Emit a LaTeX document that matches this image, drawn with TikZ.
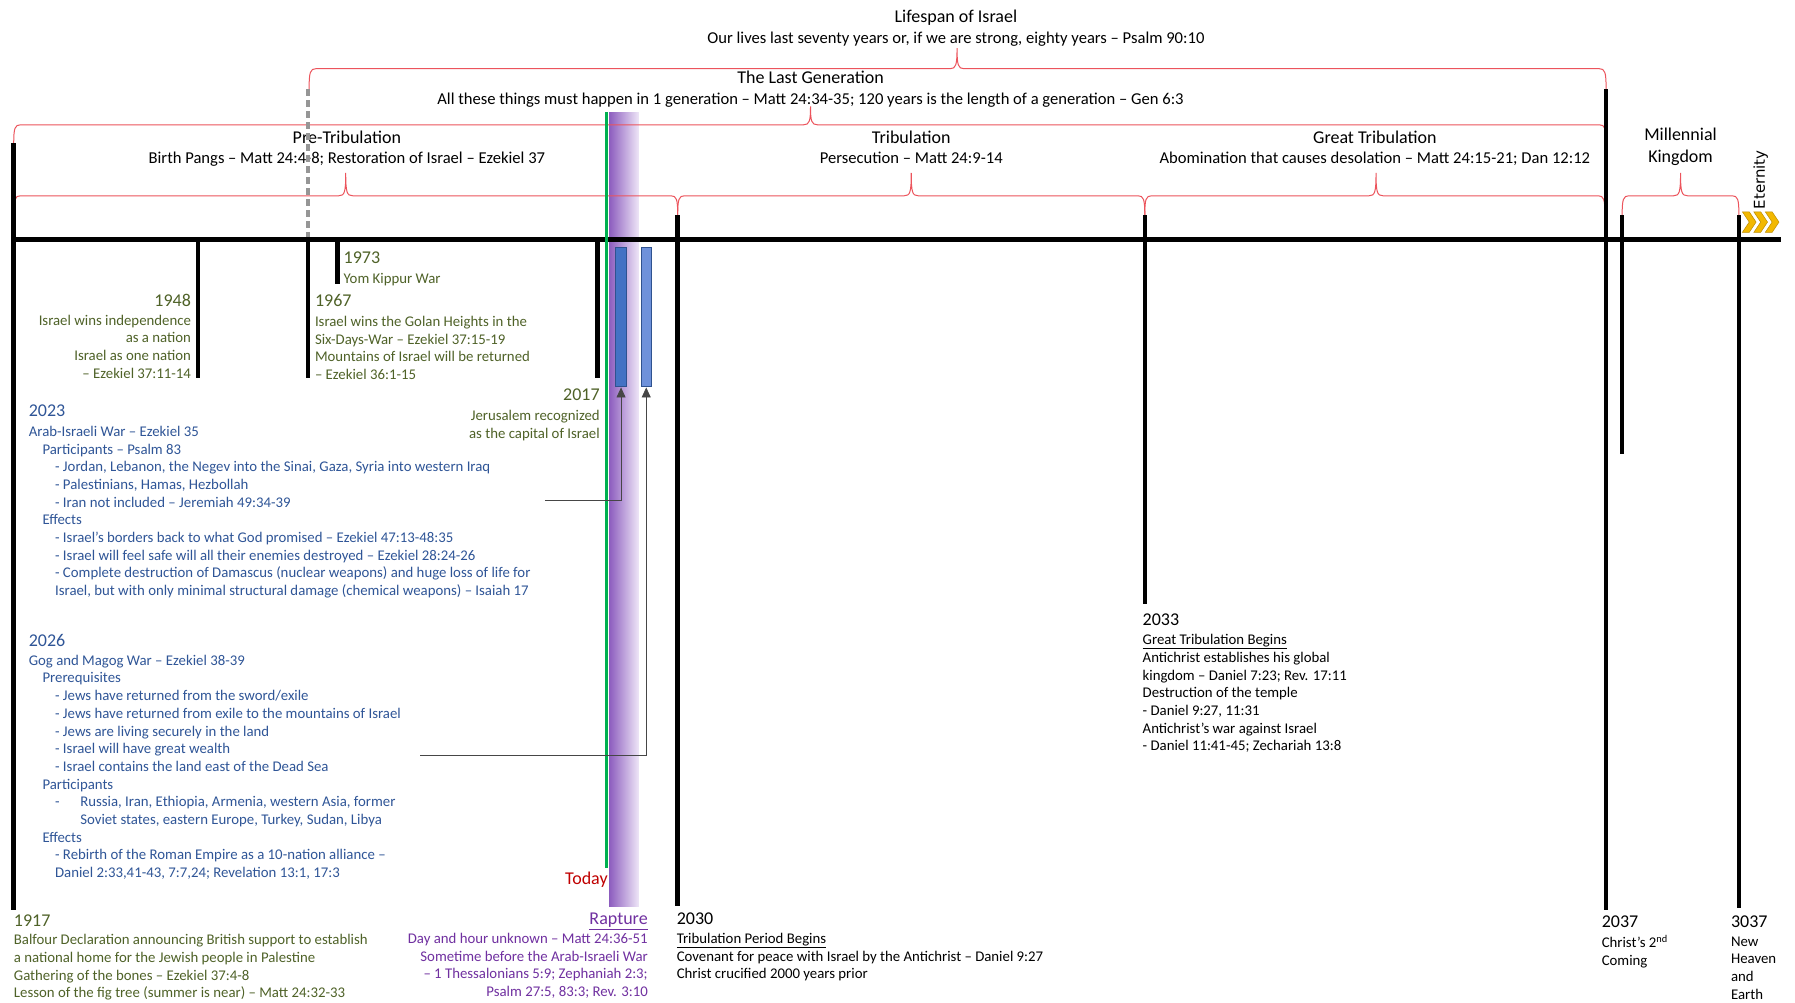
\documentclass[tikz,border=0pt]{standalone}
\usepackage{fontspec}
\setmainfont{Carlito}
\newfontfamily\etfont{DejaVu Sans}
\usetikzlibrary{arrows.meta}
\definecolor{grn}{RGB}{79,98,40}
\definecolor{blu}{RGB}{47,85,151}
\definecolor{pur}{RGB}{112,48,160}
\definecolor{tdred}{RGB}{192,0,0}
\definecolor{brred}{RGB}{236,84,92}
\definecolor{gline}{RGB}{0,176,80}
\definecolor{bar1}{RGB}{68,114,196}
\definecolor{bar2}{RGB}{110,145,218}
\definecolor{barb}{RGB}{47,82,143}
\definecolor{chev}{RGB}{242,184,0}
\definecolor{chevb}{RGB}{190,140,0}
\definecolor{purL}{RGB}{140,92,190}
\definecolor{purR}{RGB}{238,230,247}
\definecolor{dgray}{RGB}{150,150,150}
\newcommand\indA{\hspace*{13.7pt}}
\newcommand\indB{\hspace*{26.3pt}}
\newcommand\mybrace[6]{%
  \draw[brc] (#1,{#4+#5}) .. controls (#1,{#4+3}) and ({#1+1},#4) .. ({#1+6},#4)
    -- ({#3-6},#4) .. controls ({#3-1},#4) and (#3,{#4-3}) .. (#3,{#4-#6})
    .. controls (#3,{#4-3}) and ({#3+1},#4) .. ({#3+6},#4)
    -- ({#2-6},#4) .. controls ({#2-1},#4) and (#2,{#4+3}) .. (#2,{#4+#5});}
\begin{document}
\begin{tikzpicture}[x=1.1448pt,y=-1.1448pt,
  brc/.style={draw=brred,line width=1pt},
  vtick/.style={line width=4.5pt,black},
  body/.style={inner sep=0pt,font={\fontsize{14.8}{17.7}\selectfont},execute at begin node={\strut}},
  yr/.style={inner sep=0pt,font={\fontsize{18}{21}\selectfont}},
  head/.style={inner sep=0pt,font={\fontsize{18}{21}\selectfont},anchor=base},
  sub/.style={inner sep=0pt,font={\fontsize{16.6}{19}\selectfont},anchor=base},
  bluebar/.style={draw=barb,line width=1pt,minimum width=10.3pt,minimum height=139.7pt,inner sep=0pt},
  conn/.style={draw={rgb,255:red,70;green,70;blue,70},line width=0.8pt,-{Triangle[length=10pt,width=9pt]}}
]
\useasboundingbox (0,0) rectangle (1568,876);
\fill[white] (0,0) rectangle (1568,876);

% purple rapture band
\shade[left color=purL,right color=purR] (532,98) rectangle (558,792);

% top headings
\node[head] (lifespan) at (835,20) {Lifespan of Israel};
\node[sub] (lifesub) at (835,38) {Our lives last seventy years or, if we are strong, eighty years – Psalm 90:10};
\node[head] (lastgen) at (708,73) {The Last Generation};
\node[sub] (lastsub) at (708,91) {All these things must happen in 1 generation – Matt 24:34-35; 120 years is the length of a generation – Gen 6:3};
\node[head] (pretrib) at (303,125) {Pre-Tribulation};
\node[sub] (presub) at (303,143) {Birth Pangs – Matt 24:4-8; Restoration of Israel – Ezekiel 37};
\node[head] (trib) at (796,125) {Tribulation};
\node[sub] (tribsub) at (796,143) {Persecution – Matt 24:9-14};
\node[head] (gtrib) at (1201,125) {Great Tribulation};
\node[sub] (gtribsub) at (1201,143) {Abomination that causes desolation – Matt 24:15-21; Dan 12:12};
\node[head] (mill) at (1468,123) {Millennial};
\node[head] (king) at (1468,142) {Kingdom};
\node[rotate=90,inner sep=0pt,font={\etfont\fontsize{15}{17}\selectfont}] (etern) at (1538,157) {Eternity};

% braces
\mybrace{270}{1403}{836}{60}{18}{18}
\mybrace{12}{1403}{708}{109}{16}{16}
\mybrace{12}{592}{302}{171}{17}{20}
\mybrace{592}{1000}{796}{171}{17}{20}
\mybrace{1000}{1402}{1202}{171}{17}{20}
\mybrace{1417}{1519}{1468}{171}{17}{20}

% chevrons
\foreach \i in {0,1,2}{
  \filldraw[fill=chev,draw=chevb,line width=0.5pt]
    ({1522+\i*10},185) -- ({1528+\i*10},185) -- ({1534+\i*10},194) -- ({1528+\i*10},203)
    -- ({1522+\i*10},203) -- ({1528+\i*10},194) -- cycle;
}

% dashed marker
\draw[dgray,line width=3.2pt,dash pattern=on 7pt off 4pt] (269,78) -- (269,207);

% main axis
\draw[line width=4.5pt] (10,209) -- (1556,209);

% ticks
\draw[vtick] (12,125) -- (12,795);
\draw[vtick] (173,209) -- (173,330);
\draw[vtick] (269,209) -- (269,330);
\draw[vtick] (295,209) -- (295,248);
\draw[vtick] (522,209) -- (522,330);
\draw[vtick] (592,188) -- (592,791);
\draw[vtick] (1000,188) -- (1000,528);
\draw[vtick] (1403,78) -- (1403,795);
\draw[vtick] (1417,188) -- (1417,397);
\draw[vtick] (1519,188) -- (1519,793);

% today line
\draw[gline,line width=3pt] (530,98) -- (530,758);

% blue bars
\node[bluebar,fill=bar1] (r1) at (542.5,277) {};
\node[bluebar,fill=bar2] (r2) at (564.5,277) {};
\coordinate (a1) at (476,437);
\coordinate (a2) at (367,660);
\draw[conn] (a1) -| (r1.south);
\draw[conn] (a2) -| (r2.south);

% 1973
\node[yr,anchor=base west,text=grn] (y1973) at (300,230) {1973};
\node[body,anchor=north west,align=left,text=grn] (t1973) at (300,237) {Yom Kippur War};
% 1948
\node[yr,anchor=base east,text=grn] (y1948) at (167,268) {1948};
\node[body,anchor=north east,align=right,text=grn] (t1948) at (167,275) {Israel wins independence\\as a nation\\Israel as one nation\\– Ezekiel 37:11-14};
% 1967
\node[yr,anchor=base west,text=grn] (y1967) at (275,268) {1967};
\node[body,anchor=north west,align=left,text=grn] (t1967) at (275,276) {Israel wins the Golan Heights in the\\Six-Days-War – Ezekiel 37:15-19\\Mountains of Israel will be returned\\– Ezekiel 36:1-15};
% 2017
\node[yr,anchor=base east,text=grn] (y2017) at (524,350) {2017};
\node[body,anchor=north east,align=right,text=grn] (t2017) at (524,358) {Jerusalem recognized\\as the capital of Israel};

% 2023
\node[yr,anchor=base west,text=blu] (y2023) at (25,364) {2023};
\node[body,anchor=north west,align=left,text=blu] (t2023) at (25,372) {Arab-Israeli War – Ezekiel 35\\
\indA Participants – Psalm 83\\
\indB - Jordan, Lebanon, the Negev into the Sinai, Gaza, Syria into western Iraq\\
\indB - Palestinians, Hamas, Hezbollah\\
\indB - Iran not included – Jeremiah 49:34-39\\
\indA Effects\\
\indB - Israel's borders back to what God promised – Ezekiel 47:13-48:35\\
\indB - Israel will feel safe will all their enemies destroyed – Ezekiel 28:24-26\\
\indB - Complete destruction of Damascus (nuclear weapons) and huge loss of life for\\
\indB Israel, but with only minimal structural damage (chemical weapons) – Isaiah 17};

% 2026
\node[yr,anchor=base west,text=blu] (y2026) at (25,565) {2026};
\node[body,anchor=north west,align=left,text=blu] (t2026) at (25,572) {Gog and Magog War – Ezekiel 38-39\\
\indA Prerequisites\\
\indB - Jews have returned from the sword/exile\\
\indB - Jews have returned from exile to the mountains of Israel\\
\indB - Jews are living securely in the land\\
\indB - Israel will have great wealth\\
\indB - Israel contains the land east of the Dead Sea\\
\indA Participants\\
\indB\makebox[25.2pt][l]{-}Russia, Iran, Ethiopia, Armenia, western Asia, former\\
\indB\hspace*{25.2pt}Soviet states, eastern Europe, Turkey, Sudan, Libya\\
\indA Effects\\
\indB - Rebirth of the Roman Empire as a 10-nation alliance –\\
\indB Daniel 2:33,41-43, 7:7,24; Revelation 13:1, 17:3};

% Today
\node[yr,anchor=base east,text=tdred] (today) at (531,773) {Today};

% 1917
\node[yr,anchor=base west,text=grn] (y1917) at (12,809) {1917};
\node[body,anchor=north west,align=left,text=grn] (t1917) at (12,816) {Balfour Declaration announcing British support to establish\\a national home for the Jewish people in Palestine\\Gathering of the bones – Ezekiel 37:4-8\\Lesson of the fig tree (summer is near) – Matt 24:32-33};

% Rapture
\node[yr,anchor=base east,text=pur] (rapt) at (566,808) {\underline{Rapture}};
\node[body,anchor=north east,align=right,text=pur] (trapt) at (566,815) {Day and hour unknown – Matt 24:36-51\\Sometime before the Arab-Israeli War\\– 1 Thessalonians 5:9; Zephaniah 2:3;\\Psalm 27:5, 83:3; Rev. 3:10};

% 2030
\node[yr,anchor=base west] (y2030) at (591,808) {2030};
\node[body,anchor=north west,align=left] (t2030) at (591,815) {\underline{Tribulation Period Begins}\\Covenant for peace with Israel by the Antichrist – Daniel 9:27\\Christ crucified 2000 years prior};

% 2033
\node[yr,anchor=base west] (y2033) at (998,546) {2033};
\node[body,anchor=north west,align=left] (t2033) at (998,554) {\underline{Great Tribulation Begins}\\Antichrist establishes his global\\kingdom – Daniel 7:23; Rev. 17:11\\Destruction of the temple\\- Daniel 9:27, 11:31\\Antichrist’s war against Israel\\- Daniel 11:41-45; Zechariah 13:8};

% 2037
\node[yr,anchor=base west] (y2037) at (1399,810) {2037};
\node[body,anchor=north west,align=left] (t2037) at (1399,817) {Christ’s 2\textsuperscript{nd}\\Coming};

% 3037
\node[yr,anchor=base west] (y3037) at (1512,810) {3037};
\node[body,anchor=north west,align=left] (t3037) at (1512,818) {New\\Heaven\\and\\Earth};
\end{tikzpicture}
\end{document}
